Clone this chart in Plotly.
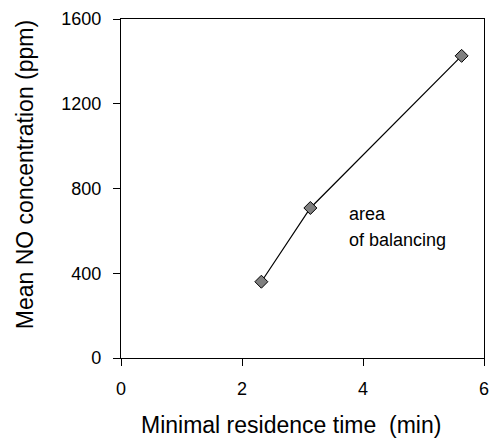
import plotly.graph_objects as go

# Data
residence_time_min = [2.32, 3.13, 5.63]
mean_no_ppm = [360, 708, 1426]
x_ticks = [0, 2, 4, 6]
y_ticks = [0, 400, 800, 1200, 1600]
x_title = "Minimal residence time  (min)"
y_title = "Mean NO concentration (ppm)"
annotation_lines = ["area", "of balancing"]
annotation_x = 3.74
annotation_y = [682, 555]

FONT = "Arial, Liberation Sans, sans-serif"

fig = go.Figure()
fig.add_trace(go.Scatter(
    x=residence_time_min,
    y=mean_no_ppm,
    mode="lines+markers",
    line=dict(color="black", width=1.2),
    marker=dict(symbol="diamond", size=10, color="#7f7f7f",
                line=dict(color="black", width=1)),
    showlegend=False,
))

for txt, yv in zip(annotation_lines, annotation_y):
    fig.add_annotation(
        x=annotation_x, y=yv, xref="x", yref="y",
        text=txt, showarrow=False, xanchor="left", yanchor="middle", align="left",
        font=dict(family=FONT, size=18, color="black"),
    )

# axis titles (placed as annotations to match the reference's offsets)
fig.add_annotation(
    x=0.468, y=-0.199, xref="paper", yref="paper", text=x_title,
    showarrow=False, xanchor="center", yanchor="middle",
    font=dict(family=FONT, size=23, color="black"),
)
fig.add_annotation(
    x=-0.266, y=0.5405, xref="paper", yref="paper", text=y_title,
    showarrow=False, xanchor="center", yanchor="middle", textangle=-90,
    font=dict(family=FONT, size=23, color="black"),
)

fig.update_layout(
    width=498, height=443,
    margin=dict(l=121, r=9, t=17, b=85),
    paper_bgcolor="white", plot_bgcolor="white",
    font=dict(family=FONT, color="black"),
)
fig.update_xaxes(
    range=[0, 6], tickvals=x_ticks, ticktext=[str(v) for v in x_ticks],
    showgrid=False, zeroline=False,
    showline=True, linecolor="black", linewidth=1.3, mirror=True,
    ticks="outside", ticklen=7, tickcolor="black", tickwidth=1.3,
    ticklabelstandoff=7,
    tickfont=dict(family=FONT, size=18, color="black"),
)
fig.update_yaxes(
    range=[0, 1600], tickvals=y_ticks, ticktext=[str(v) for v in y_ticks],
    showgrid=False, zeroline=False,
    showline=True, linecolor="black", linewidth=1.3, mirror=True,
    ticks="outside", ticklen=7, tickcolor="black", tickwidth=1.3,
    ticklabelstandoff=8,
    tickfont=dict(family=FONT, size=18, color="black"),
)

fig.write_html("out.html")
